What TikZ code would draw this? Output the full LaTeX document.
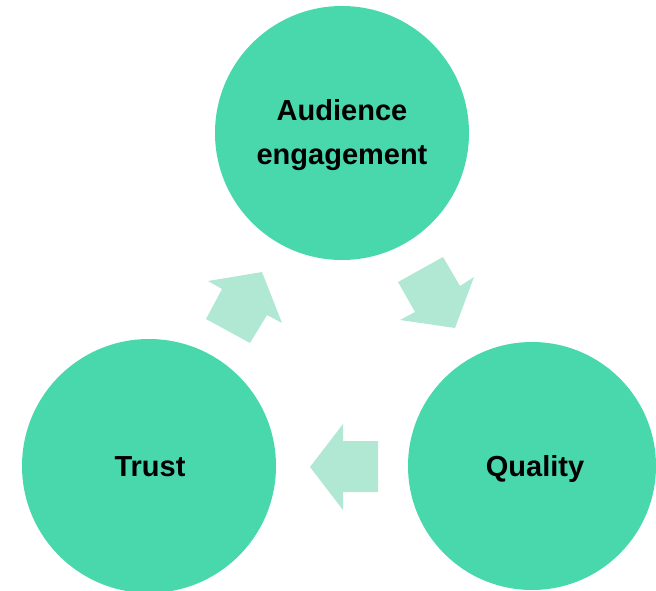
\documentclass[tikz,border=0pt]{standalone}
\usepackage{fontspec}
\setmainfont{Liberation Sans}
\definecolor{circ}{RGB}{72,216,172}
\definecolor{arr}{RGB}{176,232,212}
\begin{document}
\begin{tikzpicture}[x=1pt,y=-1pt,
  bubble/.style={circle,fill=circ,draw=none,minimum size=254pt,inner sep=0pt},
  lbl/.style={align=center,inner sep=0pt,font=\fontsize{29}{44}\selectfont\bfseries},
  flow/.style={fill=arr,draw=none}]
\useasboundingbox (0,0) rectangle (656,591);
\begin{scope}
\clip (0,0) rectangle (656,591);
\node[bubble] (eng) at (342,133) {};
\node[bubble] (trust) at (149,466) {};
\node[bubble,minimum size=248pt] (qual) at (532,466) {};
\end{scope}
\node[lbl] (engtxt) at (342,135) {Audience\\engagement};
\node[lbl,anchor=base] (trusttxt) at (150,476) {Trust};
\node[lbl,anchor=base] (qualtxt) at (535,476) {Quality};
% arrows
\fill[flow] (378,441) -- (343,441) -- (343,424) -- (310,467) -- (343,510) -- (343,492) -- (378,492) -- cycle;
\fill[flow] (206,319) -- (250,343) -- (267,315) -- (282,323) -- (262,272) -- (208,281) -- (222,289) -- cycle;
\fill[flow] (398,282) -- (443,257) -- (460,286) -- (474,277) -- (455,328) -- (400,320) -- (415,312) -- cycle;
\end{tikzpicture}
\end{document}
